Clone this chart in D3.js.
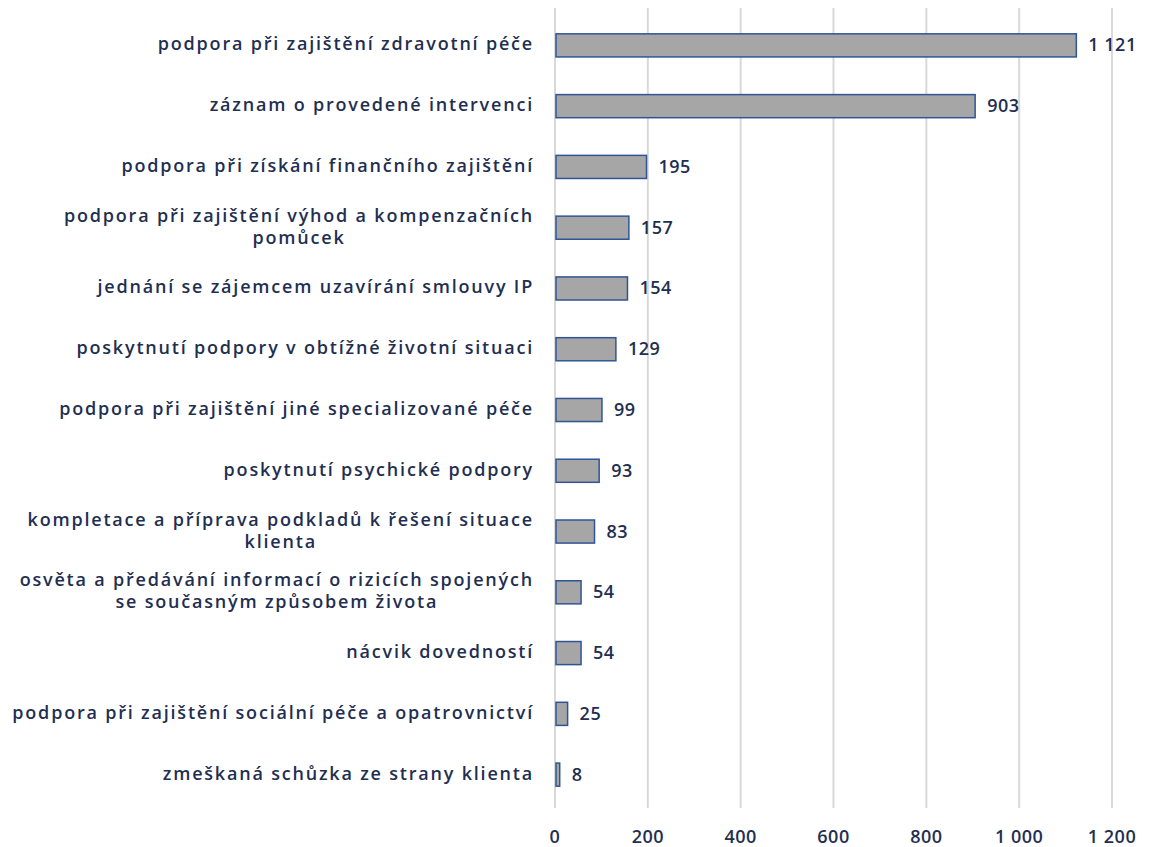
<!DOCTYPE html>
<html>
<head>
<meta charset="utf-8">
<script src="https://cdn.jsdelivr.net/npm/d3@7"></script>
<style>
  body { margin: 0; background: #fff; }
  text { font-family: "Open Sans", sans-serif; font-weight: 600; fill: #1f2f52; }
</style>
</head>
<body>
<svg id="chart" width="1149" height="847"></svg>
<script>
// categories (line breaks as in the picture)
var categories = [
  ["podpora při zajištění zdravotní péče"],
  ["záznam o provedené intervenci"],
  ["podpora při získání finančního zajištění"],
  ["podpora při zajištění výhod a kompenzačních", "pomůcek"],
  ["jednání se zájemcem uzavírání smlouvy IP"],
  ["poskytnutí podpory v obtížné životní situaci"],
  ["podpora při zajištění jiné specializované péče"],
  ["poskytnutí psychické podpory"],
  ["kompletace a příprava podkladů k řešení situace", "klienta"],
  ["osvěta a předávání informací o rizicích spojených", "se současným způsobem života"],
  ["nácvik dovedností"],
  ["podpora při zajištění sociální péče a opatrovnictví"],
  ["zmeškaná schůzka ze strany klienta"]
];
var values = [1121, 903, 195, 157, 154, 129, 99, 93, 83, 54, 54, 25, 8];
var ticks = [0, 200, 400, 600, 800, 1000, 1200];

var svg = d3.select('#chart');
var plotLeft = 555, plotRight = 1112, plotTop = 15, plotBottom = 805;
var fmt = function (v) { return d3.format(',')(v).replace(/,/g, ' '); };

var x = d3.scaleLinear().domain([0, 1200]).range([plotLeft, plotRight]);
var y = d3.scaleBand().domain(d3.range(values.length)).range([plotTop, plotBottom]).paddingInner(0.62).paddingOuter(0.31);

// gridlines
svg.append('g').selectAll('line')
  .data(ticks).enter().append('line')
  .attr('x1', function (d) { return x(d); })
  .attr('x2', function (d) { return x(d); })
  .attr('y1', 8).attr('y2', 808)
  .attr('stroke', '#d9d9d9').attr('stroke-width', 2);

// tick labels
svg.append('g').selectAll('text')
  .data(ticks).enter().append('text')
  .attr('x', function (d) { return x(d); })
  .attr('y', 843)
  .attr('text-anchor', 'middle')
  .style('font-size', '18px')
  .style('letter-spacing', '0.5px')
  .text(fmt);

// bars
svg.append('g').selectAll('rect')
  .data(values).enter().append('rect')
  .attr('x', x(0) + 1)
  .attr('y', function (d, i) { return y(i); })
  .attr('width', function (d) { return x(d) - x(0); })
  .attr('height', y.bandwidth())
  .attr('fill', '#a6a6a6')
  .attr('stroke', '#2f5597')
  .attr('stroke-width', 1.5);

// value labels
svg.append('g').selectAll('text')
  .data(values).enter().append('text')
  .attr('x', function (d) { return x(d) + 13; })
  .attr('y', function (d, i) { return y(i) + y.bandwidth() / 2 + 6; })
  .style('font-size', '18px')
  .style('letter-spacing', '0.5px')
  .text(fmt);

// category labels
var lineH = 22;
var labels = svg.append('g').selectAll('text')
  .data(categories).enter().append('text')
  .attr('text-anchor', 'middle')
  .style('font-size', '18px')
  .style('letter-spacing', '1.8px');
labels.each(function (lines, i) {
  var t = d3.select(this);
  var cy = y(i) + y.bandwidth() / 2;
  var y0 = cy - (lines.length - 1) * lineH / 2 + 5;
  lines.forEach(function (l, k) {
    t.append('tspan').attr('y', y0 + k * lineH).text(l);
  });
  var w = d3.max(t.selectAll('tspan').nodes(), function (n) { return n.getComputedTextLength(); });
  t.selectAll('tspan').attr('x', 534 - w / 2);
});
</script>
</body>
</html>
